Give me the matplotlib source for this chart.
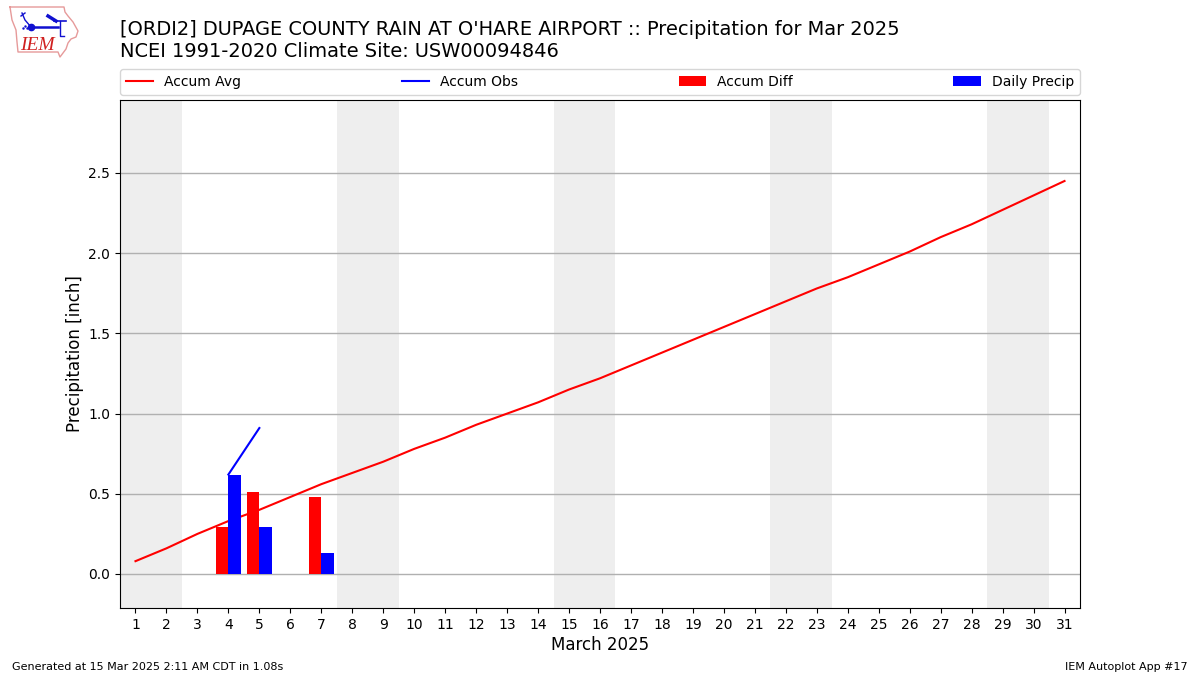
import numpy as np
import matplotlib
matplotlib.use("Agg")
import matplotlib.pyplot as plt

days = np.arange(1, 32)
accum_avg = [0.08, 0.16, 0.25, 0.33, 0.40, 0.48, 0.56, 0.63, 0.70, 0.78, 0.85,
             0.93, 1.00, 1.07, 1.15, 1.22, 1.30, 1.38, 1.46, 1.54, 1.62, 1.70,
             1.78, 1.85, 1.93, 2.01, 2.10, 2.18, 2.27, 2.36, 2.45]
obs_days = [4, 5]
accum_obs = [0.62, 0.91]
diff_days = [4, 5, 7]
accum_diff = [0.29, 0.51, 0.48]
precip_days = [4, 5, 7]
daily_precip = [0.62, 0.29, 0.13]
weekends = [(0.5, 2.5), (7.5, 9.5), (14.5, 16.5), (21.5, 23.5), (28.5, 30.5)]

# logo outline, in pixels of the picture
iowa_x = [10, 64, 65, 68, 73, 78, 76, 71, 68, 66, 63, 60, 58, 18, 17, 16, 12, 10]
iowa_y = [7, 7, 12, 16, 22, 31, 37, 39, 43, 49, 53, 57, 52, 52, 42, 30, 20, 7]

fig = plt.figure(figsize=(12, 6.75), dpi=100)
ax = fig.add_axes([0.1, 1 - 608 / 675, 0.8, 508 / 675])

for start, end in weekends:
    ax.axvspan(start, end, color="#eeeeee", lw=0, zorder=0)

ax.plot(days, accum_avg, color="r", lw=1.5, label="Accum Avg", zorder=2)
ax.plot(obs_days, accum_obs, color="b", lw=1.5, label="Accum Obs", zorder=2)
ax.bar(np.array(diff_days) - 0.2, accum_diff, width=0.4, color="r", label="Accum Diff", zorder=3)
ax.bar(np.array(precip_days) + 0.2, daily_precip, width=0.4, color="b", label="Daily Precip", zorder=3)

ax.set_xlim(0.5, 31.5)
ax.set_ylim(-0.212, 2.955)
ax.set_xticks(days)
ax.set_yticks([0, 0.5, 1.0, 1.5, 2.0, 2.5])
ax.grid(axis="y", color="#b0b0b0", lw=1)
ax.set_axisbelow(True)
ax.set_xlabel("March 2025", fontsize=12, labelpad=3)
ax.set_ylabel("Precipitation [inch]", fontsize=12, labelpad=3)
ax.legend(loc="lower left", bbox_to_anchor=(0, 1 + 5.5 / 508, 1, 25 / 508), ncol=4, mode="expand",
          borderaxespad=0, fontsize=10)

fig.text(120 / 1200, 1 - 29.5 / 675, "[ORDI2] DUPAGE COUNTY RAIN AT O'HARE AIRPORT :: Precipitation for Mar 2025",
         fontsize=13.98, va="center")
fig.text(120 / 1200, 1 - 51.5 / 675, "NCEI 1991-2020 Climate Site: USW00094846", fontsize=13.98, va="center")
fig.text(12 / 1200, 1 - 666.5 / 675, "Generated at 15 Mar 2025 2:11 AM CDT in 1.08s", fontsize=8, va="center")
fig.text(1188 / 1200, 1 - 666.5 / 675, "IEM Autoplot App #17", fontsize=8, va="center", ha="right")

# small logo
logo = fig.add_axes([0, 1 - 60 / 675, 90 / 1200, 60 / 675])
logo.set_xlim(0, 90)
logo.set_ylim(60, 0)
logo.axis("off")
logo.plot(iowa_x, iowa_y, color="#e69a9a", lw=1)
logo.plot([31, 58], [27, 27], color="#1010d0", lw=1.8)
logo.plot([22, 25, 31], [13, 20, 27], color="#1010d0", lw=1)
logo.plot([21, 25], [16, 13], color="#1010d0", lw=1)
logo.plot([60, 60, 64], [21, 36, 36], color="#1010d0", lw=1)
logo.plot([48, 56], [16, 21], color="#1010d0", lw=2.5)
logo.plot([54, 66], [21, 21], color="#1010d0", lw=1.2)
logo.plot([31], [27], "o", color="#1010d0", ms=4.5)
logo.plot([23, 25, 27], [28, 26, 28], ".", color="#1010d0", ms=1.5)
logo.text(20, 46, "IEM", color="#d02020", fontsize=14, family="Liberation Serif", style="italic", va="center")

plt.savefig("out.png", dpi=100)
